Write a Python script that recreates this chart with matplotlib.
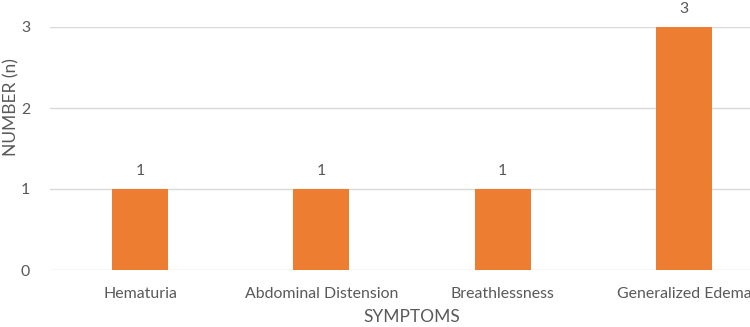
import matplotlib
matplotlib.use("Agg")
import matplotlib.pyplot as plt

categories = ["Hematuria", "Abdominal Distension", "Breathlessness", "Generalized Edema"]
values = [1, 1, 1, 3]
yticks = [0, 1, 2, 3]

plt.rcParams['font.family'] = ['Lato', 'DejaVu Sans']
txt = '#595959'

fig = plt.figure(figsize=(7.5, 3.27), dpi=100)
ax = fig.add_axes([49.5/750, 57/327, 725/750, 243/327])
x = range(len(categories))
bars = ax.bar(x, values, width=56/181, color='#ED7D31', zorder=3)
ax.set_xlim(-0.5, len(categories) - 0.5)
ax.set_ylim(0, 3)
ax.set_yticks(yticks)
ax.set_xticks(list(x))
ax.set_xticklabels(categories)
ax.grid(axis='y', color='#D9D9D9', linewidth=1, zorder=0)
for s in ax.spines.values():
    s.set_visible(False)
ax.tick_params(length=0, colors=txt, labelsize=11.4)
ax.tick_params(axis='x', pad=12)
ax.tick_params(axis='y', pad=14)
for b, v in zip(bars, values):
    ax.annotate(str(v), (b.get_x() + b.get_width()/2, v), xytext=(0, 8),
                textcoords='offset points', ha='center', va='bottom', color=txt, fontsize=11.4)
ax.set_xlabel("SYMPTOMS", color=txt, fontsize=12.5, labelpad=6)
fig.text(11/750, 1 - 107/327, "NUMBER (n)", rotation=90, ha='center', va='center', color=txt, fontsize=12.5)
fig.savefig("out.png", dpi=100)
